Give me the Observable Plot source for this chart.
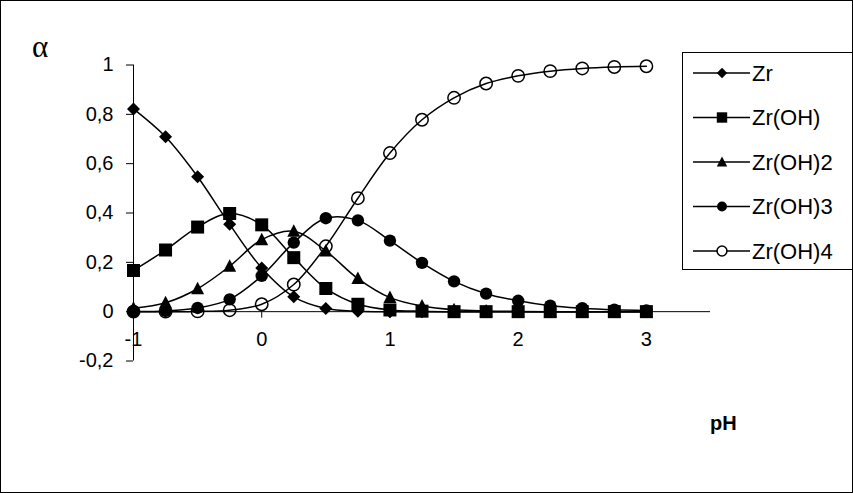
<!DOCTYPE html>
<html>
<head>
<meta charset="utf-8">
<script src="https://cdn.jsdelivr.net/npm/d3@7"></script>
<script src="https://cdn.jsdelivr.net/npm/@observablehq/plot@0.6"></script>
<style>
  html, body { margin: 0; padding: 0; background: #fff; }
  #wrap { position: relative; width: 853px; height: 493px; }
  #border { position: absolute; left: 0; top: 0; width: 853px; height: 493px; box-sizing: border-box; border: 1px solid #000; pointer-events: none; }
  svg { display: block; }
</style>
</head>
<body>
<div id="wrap"><div id="border"></div></div>
<script>
// ---- data ----
const pH = [-1, -0.75, -0.5, -0.25, 0, 0.25, 0.5, 0.75, 1, 1.25, 1.5, 1.75, 2, 2.25, 2.5, 2.75, 3];
const Zr     = [0.822, 0.709, 0.547, 0.354, 0.177, 0.060, 0.013, 0.002, 0, 0, 0, 0, 0, 0, 0, 0, 0];
const ZrOH   = [0.167, 0.250, 0.343, 0.398, 0.352, 0.219, 0.094, 0.030, 0.007, 0.002, 0, 0, 0, 0, 0, 0, 0];
const ZrOH2  = [0.014, 0.036, 0.093, 0.184, 0.292, 0.326, 0.246, 0.134, 0.057, 0.023, 0.008, 0.003, 0.001, 0, 0, 0, 0];
const ZrOH3  = [0.001, 0.003, 0.015, 0.050, 0.145, 0.280, 0.379, 0.370, 0.288, 0.198, 0.123, 0.073, 0.044, 0.024, 0.014, 0.008, 0.005];
const ZrOH4  = [0, 0, 0.001, 0.006, 0.030, 0.110, 0.265, 0.460, 0.643, 0.778, 0.867, 0.925, 0.956, 0.975, 0.986, 0.992, 0.995];
const seriesNames = ["Zr", "Zr(OH)", "Zr(OH)2", "Zr(OH)3", "Zr(OH)4"];
const seriesValues = [Zr, ZrOH, ZrOH2, ZrOH3, ZrOH4];
const xTicks = [-1, 0, 1, 2, 3];
const yTicks = [-0.2, 0, 0.2, 0.4, 0.6, 0.8, 1];
const yLabel = "α";
const xLabel = "pH";

// ---- marker symbols (Excel style) ----
const diamondSym = {draw(c) { const s = 6.5; c.moveTo(0, -s); c.lineTo(s, 0); c.lineTo(0, s); c.lineTo(-s, 0); c.closePath(); }};
const squareSym  = {draw(c) { const s = 6.5; c.moveTo(-s, -s); c.lineTo(s, -s); c.lineTo(s, s); c.lineTo(-s, s); c.closePath(); }};
const triSym     = {draw(c) { c.moveTo(0, -7); c.lineTo(6.5, 5.5); c.lineTo(-6.5, 5.5); c.closePath(); }};
const circSym    = {draw(c) { const r = 6.2; c.moveTo(r, 0); c.arc(0, 0, r, 0, 2 * Math.PI); }};
const tickSym    = {draw(c) { c.moveTo(0, 0); c.lineTo(0, 6); }};
const styles = [
  {symbol: diamondSym, fill: "black", stroke: "none", sw: 0},
  {symbol: squareSym,  fill: "black", stroke: "none", sw: 0},
  {symbol: triSym,     fill: "black", stroke: "none", sw: 0},
  {symbol: circSym,    fill: "black", stroke: "none", sw: 0},
  {symbol: circSym,    fill: "none",  stroke: "black", sw: 1.5}
];

const table = seriesNames.flatMap((name, si) =>
  pH.map((x, i) => ({series: name, si, x, y: seriesValues[si][i]})));

const fmt = d => (d === 0 ? "0" : String(d).replace(".", ","));
const FONT = "Arial, 'Liberation Sans', sans-serif";

const marks = [
  Plot.ruleX([-1], {stroke: "black", strokeWidth: 1}),
  Plot.ruleY([0], {stroke: "black", strokeWidth: 1}),
  Plot.dot(xTicks, {x: d => d, y: () => 0, symbol: tickSym, stroke: "black", strokeWidth: 1}),
  Plot.text(xTicks, {x: d => d, y: () => 0, text: d => String(d), dy: 28, fontSize: 20, fill: "black"}),
  Plot.axisY({ticks: yTicks, tickSize: 7, tickPadding: 13, tickFormat: fmt, fontSize: 20, label: null, color: "black"})
];
seriesNames.forEach((name, si) => {
  const data = table.filter(d => d.si === si);
  marks.push(Plot.line(data, {x: "x", y: "y", curve: "catmull-rom", stroke: "black", strokeWidth: 1.5}));
});
seriesNames.forEach((name, si) => {
  const data = table.filter(d => d.si === si);
  const st = styles[si];
  marks.push(Plot.dot(data, {x: "x", y: "y", symbol: st.symbol, fill: st.fill, stroke: st.stroke, strokeWidth: st.sw}));
});

const chart = Plot.plot({
  width: 853,
  height: 493,
  marginLeft: 133,
  marginRight: 143,
  marginTop: 64.5,
  marginBottom: 132.5,
  style: {fontFamily: FONT, fontSize: "20px", color: "black", background: "white"},
  x: {domain: [-1, 3.5], axis: null},
  y: {domain: [-0.2, 1], axis: null},
  marks
});

const svg = d3.select(chart);
// axis titles
svg.append("text").attr("x", 40).attr("y", 57).attr("text-anchor", "middle")
  .attr("font-family", "'Liberation Serif', 'Times New Roman', serif").attr("font-size", 31).attr("fill", "black").text(yLabel);
svg.append("text").attr("x", 710).attr("y", 430).attr("text-anchor", "start")
  .attr("font-family", FONT).attr("font-size", 20).attr("font-weight", "bold").attr("fill", "black").text(xLabel);

// legend
const lg = svg.append("g");
lg.append("rect").attr("x", 682.5).attr("y", 52.5).attr("width", 172).attr("height", 217)
  .attr("fill", "white").attr("stroke", "black").attr("stroke-width", 1);
const rowY = [73, 117.5, 162, 206.5, 251];
seriesNames.forEach((name, si) => {
  const y = rowY[si];
  const st = styles[si];
  lg.append("line").attr("x1", 693).attr("x2", 750).attr("y1", y).attr("y2", y)
    .attr("stroke", "black").attr("stroke-width", 1.5);
  const p = d3.path();
  st.symbol.draw(p);
  lg.append("path").attr("d", p.toString()).attr("transform", `translate(722,${y}) scale(0.8)`)
    .attr("fill", st.fill === "none" ? "white" : st.fill).attr("stroke", st.stroke).attr("stroke-width", st.sw / 0.8 || null);
  lg.append("text").attr("x", 752).attr("y", y).attr("dy", "0.36em").attr("text-anchor", "start")
    .attr("font-family", FONT).attr("font-size", 22).attr("fill", "black").text(name);
});

document.getElementById("wrap").prepend(chart);
</script>
</body>
</html>
